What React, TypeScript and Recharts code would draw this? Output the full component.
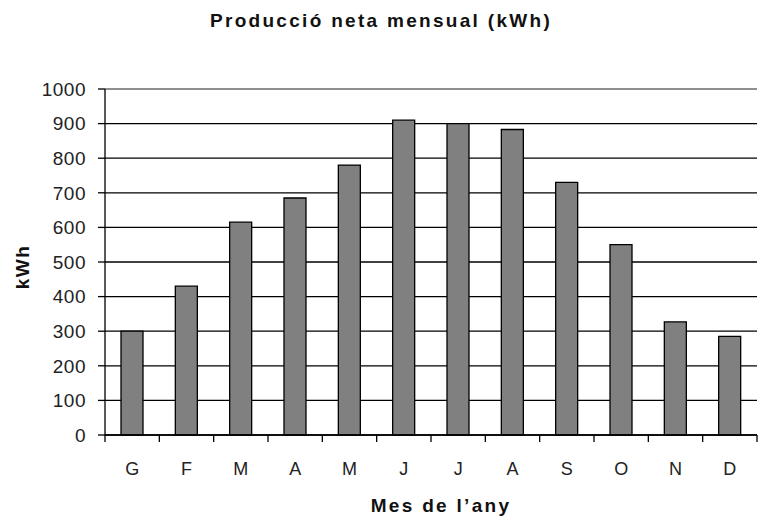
import { BarChart, Bar, XAxis, YAxis, CartesianGrid, ReferenceLine } from 'recharts';

const months = ['G', 'F', 'M', 'A', 'M', 'J', 'J', 'A', 'S', 'O', 'N', 'D'];
const production = [300, 430, 615, 685, 780, 910, 900, 883, 730, 550, 327, 285];
const yTicks = [0, 100, 200, 300, 400, 500, 600, 700, 800, 900, 1000];

const data = months.map((m, i) => ({ key: i, month: m, kwh: production[i] }));

const W = 758;
const H = 521;
const AXIS_W = 105;
const RIGHT = 1;
const band = (W - AXIS_W - RIGHT) / months.length;
const font = 'Liberation Sans, Arial, sans-serif';

function MonthTick(props: any) {
  const { x, y, payload, index } = props;
  return (
    <g>
      <line x1={x - band / 2} x2={x - band / 2} y1={y} y2={y + 7} stroke="#000" strokeWidth={1.3} />
      {index === months.length - 1 && (
        <line x1={x + band / 2} x2={x + band / 2} y1={y} y2={y + 7} stroke="#000" strokeWidth={1.3} />
      )}
      <text x={x} y={y + 40} textAnchor="middle" fontSize={18} fill="#222" fontFamily={font}>
        {months[payload.value]}
      </text>
    </g>
  );
}

export default function App() {
  return (
    <div style={{ position: 'absolute', left: 0, top: 0, width: W, height: H, background: '#fff' }}>
      <div style={{ position: 'absolute', top: 10, left: 2, width: W, textAlign: 'center', fontFamily: font, fontWeight: 'bold', fontSize: 19, letterSpacing: 2.3, color: '#111' }}>
        Producció neta mensual (kWh)
      </div>
      <BarChart width={W} height={H} data={data} margin={{ top: 89, right: RIGHT, left: 0, bottom: 0 }}>
        <CartesianGrid vertical={false} stroke="#000" strokeWidth={1.3} />
        <ReferenceLine y={1000} stroke="#aaa" strokeWidth={1.5} />
        <XAxis
          dataKey="key"
          height={86}
          tick={<MonthTick />}
          tickLine={false}
          tickSize={0}
          tickMargin={0}
          axisLine={{ stroke: '#000', strokeWidth: 1.3 }}
          interval={0}
          label={{
            content: (p: any) => (
              <text x={p.viewBox.x + p.viewBox.width / 2 + 10} y={p.viewBox.y + 77} textAnchor="middle" fontSize={19} fontWeight="bold" fontFamily={font} fill="#111" style={{ letterSpacing: 2.3 }}>
                Mes de l’any
              </text>
            ),
          }}
        />
        <YAxis
          width={AXIS_W}
          domain={[0, 1000]}
          ticks={yTicks}
          interval={0}
          tickSize={7}
          tickMargin={12}
          tickLine={{ stroke: '#000', strokeWidth: 1.3 }}
          axisLine={{ stroke: '#000', strokeWidth: 1.3 }}
          tick={{ fontSize: 19, fill: '#222', fontFamily: font, style: { letterSpacing: 0.5 } }}
          label={{
            content: (p: any) => {
              const cx = 22;
              const cy = p.viewBox.y + p.viewBox.height / 2 + 5;
              return (
                <text x={cx} y={cy} transform={`rotate(-90 ${cx} ${cy})`} textAnchor="middle" dominantBaseline="central" fontSize={19} fontWeight="bold" fontFamily={font} fill="#111" style={{ letterSpacing: 1.5 }}>
                  kWh
                </text>
              );
            },
          }}
        />
        <Bar dataKey="kwh" fill="#808080" stroke="#000" strokeWidth={1.3} barSize={22} isAnimationActive={false} />
      </BarChart>
    </div>
  );
}
